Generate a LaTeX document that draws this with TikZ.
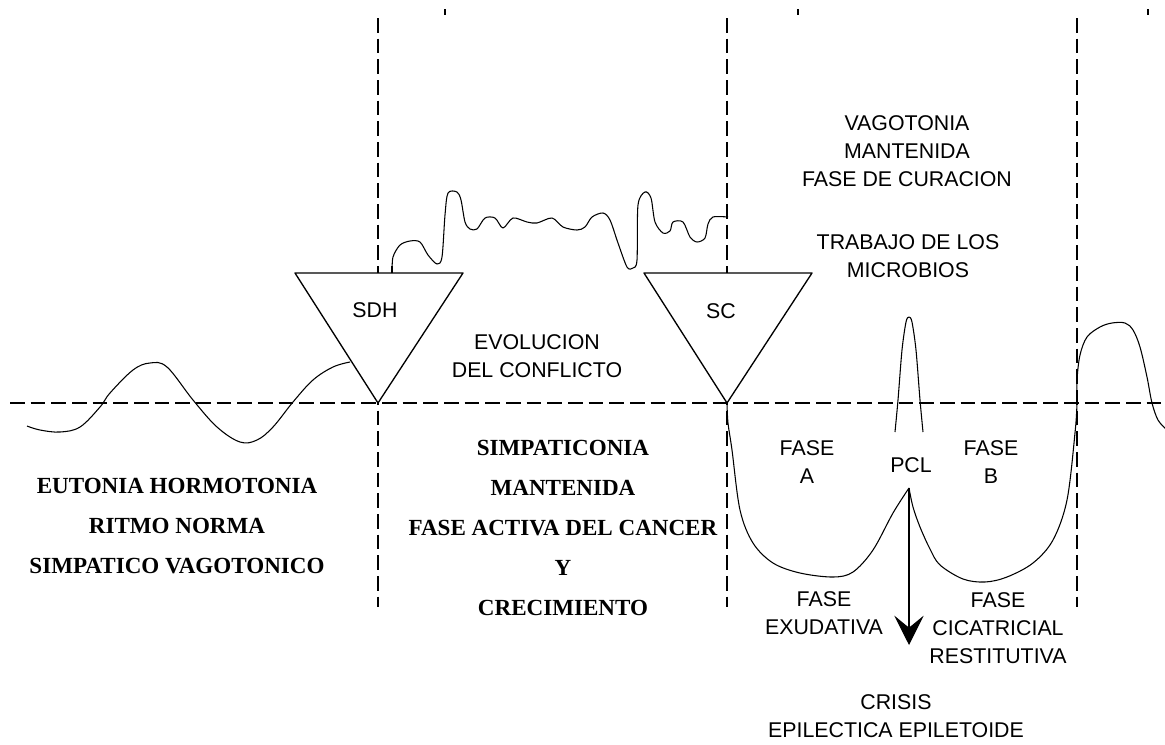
\documentclass[tikz,border=0pt]{standalone}
\usepackage{fontspec}
\setmainfont{Liberation Serif}
\setsansfont{Liberation Sans}
\usetikzlibrary{arrows.meta}
\definecolor{fg}{RGB}{0,0,0}
\definecolor{bg}{RGB}{255,255,255}
\tikzset{
  every picture/.style={fg, line width=0.8pt, line join=round},
  % Linien
  divider/.style={line width=1.2pt, dash pattern=on 11pt off 4.5pt},
  curve/.style={line width=0.8pt},
  tri/.style={line width=1pt, fill=bg},
  tick/.style={line width=1.2pt},
  % Texte
  tag/.style={font=\sffamily\fontsize{16}{21}\selectfont, align=center, inner sep=0pt},
  phase/.style={font=\rmfamily\bfseries\fontsize{17.3}{30}\selectfont, align=center, inner sep=0pt},
}

\begin{document}
\begin{tikzpicture}[x=0.75pt, y=-0.75pt]
  \useasboundingbox (0,0) rectangle (1165,744);
  % Rejilla: eje de normotonia y cortes de fase
  \draw[divider] (10,403) -- (1165,403);
  \foreach \x in {378,727,1077}
    \draw[divider] (\x,18) -- (\x,607);
  \foreach \x in {445,798,1148}
    \draw[tick] (\x,9) -- (\x,15);
  % Ritmo normal
  \draw[curve] plot[smooth, tension=0.6] coordinates {(27,426) (40,430) (60,432) (80,427) (100,407) (110,393)
    (133,370) (150,363) (167,367) (193,400) (217,427) (240,442) (257,440) (273,427) (293,402) (313,380) (333,367) (350,362)};
  % Simpaticotonia
  \draw[curve] plot[smooth, tension=0.5] coordinates {(392,273) (393,257) (400,245) (410,241) (420,242) (428,255)
    (437,264) (442,257) (445,215) (448,193) (457,192) (461,200) (465,222) (470,229) (477,229) (485,218) (495,218)
    (503,228) (513,218) (527,222) (537,223) (552,218) (563,227) (577,230) (585,227) (592,217) (603,213) (610,220)
    (618,243) (627,267) (633,268) (637,260) (638,205) (645,192) (651,198) (655,222) (663,233) (670,231) (673,222)
    (683,222) (690,237) (697,242) (705,238) (708,224) (713,217) (728,217)};
  % Vagotonia: fase A, PCL, fase B
  \coordinate (pclpeak) at (909,488);
  \draw[curve] plot[smooth, tension=0.55] coordinates {(727,403) (728,423) (732,450) (740,510) (753,543) (773,563)
    (800,573) (833,577) (853,572) (873,550) (893,513) (909,488)};
  \draw[curve] plot[smooth, tension=0.55] coordinates {(909,488) (913,507) (920,527) (930,549) (940,565) (963,579)
    (985,582) (1007,577) (1033,563) (1053,540) (1067,500) (1075,433) (1077,403) (1077,380) (1080,355) (1087,337)
    (1100,327) (1112,323) (1125,323) (1133,330) (1140,347) (1147,377) (1152,403) (1158,420) (1166,429)};
  \draw[curve] plot[smooth, tension=0.5] coordinates {(895,432) (898,400) (902,350) (906,322) (909,317) (912,322)
    (916,350) (920,400) (923,432)};
  % Triangulos SDH y SC
  \draw[tri] (295,273) -- (463,273) -- (378,403) -- cycle;
  \draw[tri] (644,273) -- (812,273) -- (727,403) -- cycle;
  \draw[curve] (392,273) -- (392,266);
  \node[tag] (sdh) at (375,310) {SDH};
  \node[tag] (sc) at (721,311) {SC};
  % Crisis epileptoide
  \coordinate (crisistip) at (909,645);
  \draw[line width=0.8pt, -{Stealth[length=22pt, width=22pt, inset=9pt]}] (pclpeak) -- (crisistip);
  % Rotulos
  \node[tag] (evol) at (537,356) {EVOLUCION\\DEL CONFLICTO};
  \node[tag] (vago) at (907,151) {VAGOTONIA\\MANTENIDA\\FASE DE CURACION};
  \node[tag] (micro) at (908,256) {TRABAJO DE LOS\\MICROBIOS};
  \node[tag] (fasea) at (807,462) {FASE\\A};
  \node[tag] (pcl) at (911,465) {PCL};
  \node[tag] (faseb) at (991,462) {FASE\\B};
  \node[tag] (exud) at (824,613) {FASE\\EXUDATIVA};
  \node[tag] (cicat) at (998,628) {FASE\\CICATRICIAL\\RESTITUTIVA};
  \node[tag] (crisis) at (896,716) {CRISIS\\EPILECTICA EPILETOIDE};
  \node[phase] (eut) at (177,526) {EUTONIA HORMOTONIA\\RITMO NORMA\\SIMPATICO VAGOTONICO};
  \node[phase] (simp) at (563,528) {SIMPATICONIA\\MANTENIDA\\FASE ACTIVA DEL CANCER\\Y\\CRECIMIENTO};
\end{tikzpicture}
\end{document}
